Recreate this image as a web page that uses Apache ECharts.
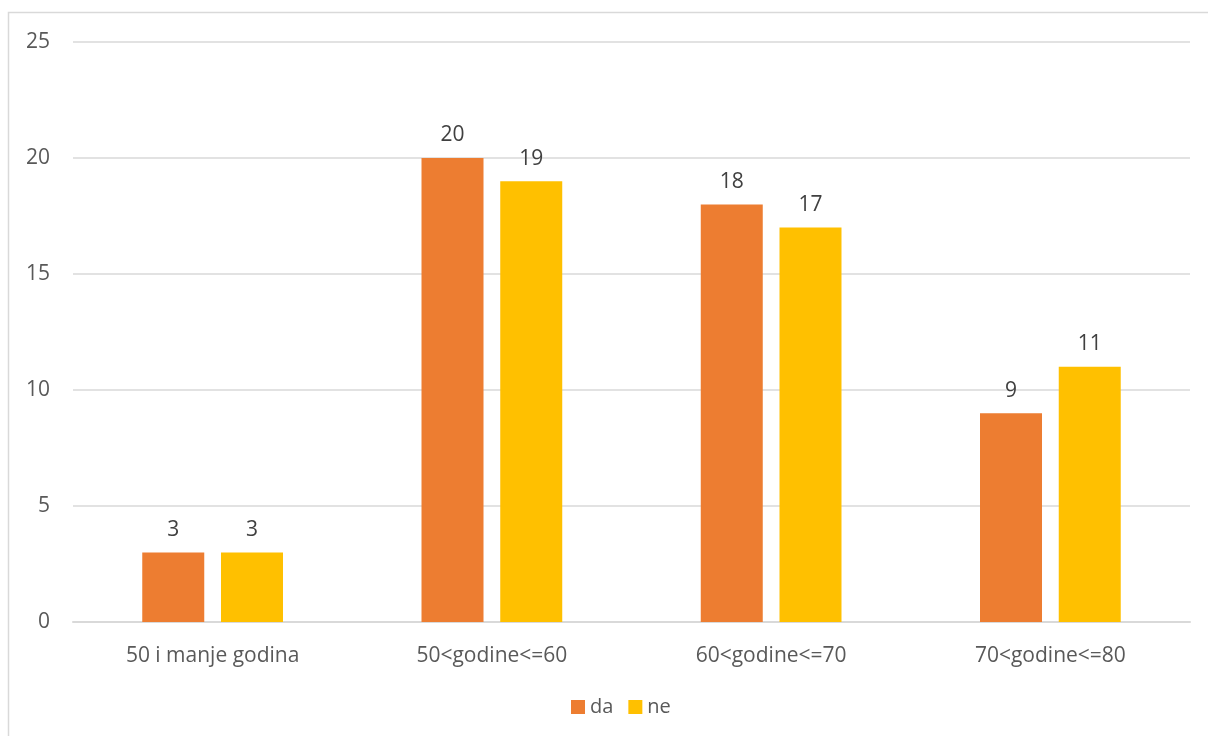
<!DOCTYPE html>
<html><head><meta charset="utf-8">
<script src="https://cdn.jsdelivr.net/npm/echarts@6/dist/echarts.min.js"></script>
<style>html,body{margin:0;padding:0;background:#fff}#c{width:1208px;height:736px}</style>
</head><body><div id="c"></div>
<script>
const categories = ['50 i manje godina', '50<godine<=60', '60<godine<=70', '70<godine<=80'];
const daValues = [3, 20, 18, 9];
const neValues = [3, 19, 17, 11];
const seriesNames = ['da', 'ne'];

const chart = echarts.init(document.getElementById('c'));
const font = '"Open Sans", "Liberation Sans", sans-serif';
const lbl = {show: true, position: 'top', color: '#404040', fontSize: 21, fontFamily: font, distance: 12};
chart.setOption({
  animation: false,
  textStyle: {fontFamily: font},
  graphic: [{
    type: 'rect', shape: {x: 8.5, y: 12.5, width: 1220, height: 740},
    style: {fill: 'none', stroke: '#d9d9d9', lineWidth: 1.5}, silent: true
  }],
  grid: {left: 73, right: 18, top: 42, bottom: 114, containLabel: false},
  legend: {
    top: 692, left: 566, itemWidth: 14, itemHeight: 14, itemGap: 15,
    icon: 'rect',
    textStyle: {color: '#595959', fontSize: 20, fontFamily: font},
    data: seriesNames
  },
  xAxis: {
    type: 'category', data: categories,
    axisLine: {lineStyle: {color: '#d9d9d9', width: 2}},
    axisTick: {show: false},
    axisLabel: {color: '#595959', fontSize: 21, fontFamily: font, margin: 24}
  },
  yAxis: {
    type: 'value', min: 0, max: 25, interval: 5,
    axisLine: {show: false}, axisTick: {show: false},
    splitLine: {lineStyle: {color: '#d9d9d9', width: 1.5}},
    axisLabel: {color: '#595959', fontSize: 21, fontFamily: font, margin: 23}
  },
  series: [
    {name: seriesNames[0], type: 'bar', data: daValues, barWidth: 62, barGap: '27%',
     itemStyle: {color: '#ed7d31'}, label: lbl},
    {name: seriesNames[1], type: 'bar', data: neValues, barWidth: 62,
     itemStyle: {color: '#ffc000'}, label: lbl}
  ]
});
</script></body></html>
